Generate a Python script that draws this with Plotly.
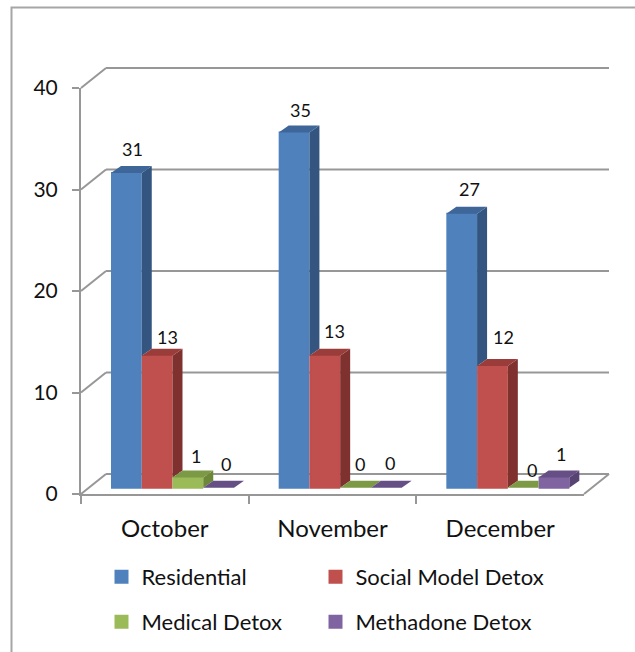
import plotly.graph_objects as go

# ---- data ----
CATEGORIES = ["October", "November", "December"]
RESIDENTIAL = [31, 35, 27]
SOCIAL_MODEL = [13, 13, 12]
MEDICAL = [1, 0, 0]
METHADONE = [0, 0, 1]
SERIES_NAMES = ["Residential", "Social Model Detox", "Medical Detox", "Methadone Detox"]
SERIES_VALUES = [RESIDENTIAL, SOCIAL_MODEL, MEDICAL, METHADONE]

# ---- style ----
FRONT = ["#4f81bd", "#c0504d", "#9bbb59", "#8064a2"]
SIDE = ["#33557f", "#7f3130", "#6c8738", "#584474"]
TOP = ["#3f6698", "#9a3d3a", "#7c9946", "#664f85"]
GRID = "#979797"
BORDER = "#a6a6a6"
TEXT = "#111111"
FONT = "Lato"
W, H = 635, 652

# ---- geometry (pixels) ----
AX_L, AX_R, AX_B, AX_T = 81, 584, 494, 88
CAT_PX = (AX_R - AX_L) / 3
VAL_PX = (AX_B - AX_T) / 40
BAR_BASE = 487.7
GROUP_PAD = 30 / CAT_PX
BAR_W = 30.75 / CAT_PX
DX, DY = 10 / CAT_PX, 7 / VAL_PX
WALL_DX, WALL_DY = 25 / CAT_PX, 20 / VAL_PX
FRONT_DV = (BAR_BASE - AX_B) / VAL_PX  # value offset of the front axis plane

# per-label nudges (pixels) relative to bar centre / bar top
LABEL_DX = [[6, 6, 8], [10, 10, 11], [8, 4, 9], [7, 4, 7]]
LABEL_DY = [[24, 22, 25], [19, 25, 29], [22, 24, 18], [24, 25, 24]]

fig = go.Figure()

for j, (name, vals) in enumerate(zip(SERIES_NAMES, SERIES_VALUES)):
    # tallest point first: the legend swatch takes its outline from the first point
    order = sorted(range(3), key=lambda k: -vals[k])
    centers = [k + GROUP_PAD + (j + 0.5) * BAR_W for k in order]
    fig.add_trace(go.Bar(
        x=centers, y=[vals[k] for k in order], width=BAR_W - 2 / CAT_PX, name=name,
        marker=dict(color=FRONT[j],
                    line=dict(color=FRONT[j], width=[2 if vals[k] > 0 else 0 for k in order])),
        legend="legend" if j == 0 else f"legend{j + 1}",
        hovertemplate=name + ": %{y}<extra></extra>",
    ))

for j, vals in enumerate(SERIES_VALUES):
    next_vals = SERIES_VALUES[j + 1] if j < 3 else [0, 0, 0]
    sx, sy, tx, ty = [], [], [], []
    for i, v in enumerate(vals):
        xl = i + GROUP_PAD + j * BAR_W
        xr = xl + BAR_W
        nv = next_vals[i]
        if v > nv:
            sx += [xr, xr + DX, xr + DX, xr, None]
            sy += [nv, nv + DY, v + DY, v, None]
        if v < nv:
            # the next, taller bar hides the right end of this top face
            tx += [xl, xr, xr, xl + DX, None]
        else:
            tx += [xl, xr, xr + DX, xl + DX, None]
        ty += [v, v, v + DY, v + DY, None]
    if sx:
        fig.add_trace(go.Scatter(x=sx, y=sy, mode="lines", fill="toself", fillcolor=SIDE[j],
                                 line=dict(width=0), showlegend=False, hoverinfo="skip"))
    fig.add_trace(go.Scatter(x=tx, y=ty, mode="lines", fill="toself", fillcolor=TOP[j],
                             line=dict(width=0), showlegend=False, hoverinfo="skip"))

# invisible trace that carries the category axis
fig.add_trace(go.Scatter(x=CATEGORIES, y=RESIDENTIAL, mode="none", xaxis="x2", yaxis="y2",
                         showlegend=False, hoverinfo="skip"))

# walls and floor
shapes = []
line = dict(color=GRID, width=2)
for t in range(0, 41, 10):
    y_front = t + FRONT_DV
    y_back = y_front + WALL_DY
    shapes.append(dict(type="line", xref="x", yref="y", layer="below", line=line,
                       x0=0, y0=y_front, x1=WALL_DX, y1=y_back))
    shapes.append(dict(type="line", xref="x", yref="y", layer="below", line=line,
                       x0=WALL_DX, y0=y_back, x1=3 + WALL_DX, y1=y_back))
shapes.append(dict(type="line", xref="x", yref="y", layer="below", line=line,
                   x0=3, y0=FRONT_DV, x1=3 + WALL_DX, y1=FRONT_DV + WALL_DY))
# outer chart frame (left and top edges only are in view)
shapes.append(dict(type="path", xref="paper", yref="paper", layer="below",
                   path=f"M {11.5 / W} 0 L {11.5 / W} {1 - 7.5 / H} L 1 {1 - 7.5 / H}",
                   line=dict(color=BORDER, width=2)))

annotations = []
for j, vals in enumerate(SERIES_VALUES):
    for i, v in enumerate(vals):
        annotations.append(dict(
            x=i + GROUP_PAD + (j + 0.5) * BAR_W, y=v, text=str(v), showarrow=False,
            xshift=LABEL_DX[j][i], yshift=LABEL_DY[j][i],
            font=dict(family=FONT, size=18, color=TEXT),
        ))

legend_common = dict(bgcolor="rgba(0,0,0,0)", xanchor="left", yanchor="middle",
                     font=dict(family=FONT, size=22, color=TEXT), itemwidth=30)
ROW1, ROW2 = 1 - 577 / H, 1 - 622 / H
COL1, COL2 = 101.5 / W, 315.5 / W

fig.update_layout(
    width=W, height=H, margin=dict(l=0, r=0, t=0, b=0, autoexpand=False),
    paper_bgcolor="white", plot_bgcolor="rgba(0,0,0,0)",
    barmode="overlay",
    xaxis=dict(domain=[0, 1], range=[-AX_L / CAT_PX, (W - AX_L) / CAT_PX], visible=False, fixedrange=True),
    yaxis=dict(domain=[0, 1], range=[(BAR_BASE - H) / VAL_PX, BAR_BASE / VAL_PX], visible=False, fixedrange=True),
    xaxis2=dict(domain=[AX_L / W, AX_R / W], anchor="y2", type="category",
                categoryorder="array", categoryarray=CATEGORIES, range=[-0.5, 2.5],
                tickson="boundaries", ticks="outside", ticklen=8, tickwidth=2, tickcolor=GRID,
                showline=True, linecolor=GRID, linewidth=2, showgrid=False, zeroline=False,
                tickfont=dict(family=FONT, size=24, color=TEXT), ticklabelstandoff=12, fixedrange=True),
    yaxis2=dict(domain=[1 - AX_B / H, 1 - AX_T / H], anchor="x2", range=[0, 40], tickmode="linear",
                tick0=0, dtick=10, ticks="outside", ticklen=7, tickwidth=2, tickcolor=GRID,
                showline=True, linecolor=GRID, linewidth=2, showgrid=False, zeroline=False,
                tickfont=dict(family=FONT, size=21, color=TEXT), ticklabelstandoff=10, fixedrange=True),
    legend=dict(x=COL1, y=ROW1, **legend_common),
    legend2=dict(x=COL2, y=ROW1, **legend_common),
    legend3=dict(x=COL1, y=ROW2, **legend_common),
    legend4=dict(x=COL2, y=ROW2, **legend_common),
    shapes=shapes, annotations=annotations,
)

fig.write_html("out.html", config={"displayModeBar": False},
               post_script="document.body.style.margin='0';document.documentElement.style.overflow='hidden';")
